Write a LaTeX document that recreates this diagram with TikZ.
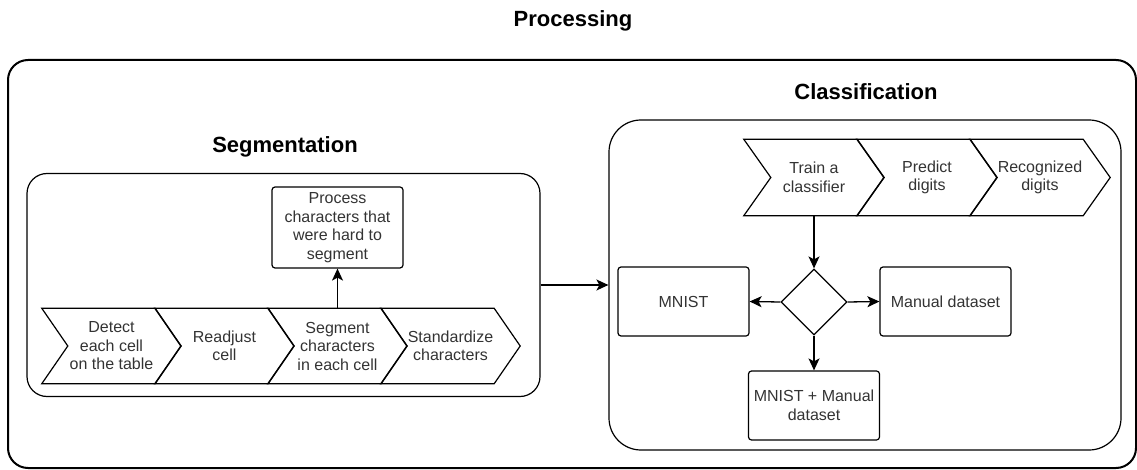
\documentclass[tikz,border=0pt]{standalone}
\usepackage{fontspec}
\setmainfont{Liberation Sans}
\usetikzlibrary{shapes.geometric,arrows.meta}
\newcommand\chevpath[2]{\draw[line width=1.2pt] (#1.north west) -- ([xshift=-#2]#1.north east) -- (#1.east) -- ([xshift=-#2]#1.south east) -- (#1.south west) -- ([xshift=#2]#1.west) -- cycle;}
\begin{document}
\begin{tikzpicture}[x=1pt,y=-1pt,
  txt/.style={text=black!80, font=\fontsize{16}{18.5}\selectfont, align=center},
  ttl/.style={font=\fontsize{22}{26}\selectfont\bfseries, anchor=base, inner sep=0pt},
  chev/.style={txt, minimum width=139pt, minimum height=75pt, inner sep=0pt},
  cchev/.style={txt, minimum width=140pt, minimum height=76pt, inner sep=0pt},
  box/.style={txt, draw=black, line width=1.2pt, rounded corners=3pt, minimum width=131pt, minimum height=69pt, inner sep=0pt},
  container/.style={draw=black, line width=1.2pt, inner sep=0pt},
  arr/.style={line width=1.3pt, -{Stealth[length=12pt,width=11pt,inset=3pt]}},
]
\useasboundingbox (0,0) rectangle (1137,470);

% titles
\node[ttl] (tproc) at (573,26.7) {Processing};
\node[ttl] (tseg) at (285,153) {Segmentation};
\node[ttl] (tcls) at (866,100) {Classification};

% containers
\node[container, line width=2pt, rounded corners=20pt, minimum width=1128pt, minimum height=408pt] (proc) at (572,264) {};
\node[container, rounded corners=20pt, minimum width=513pt, minimum height=223pt] (seg) at (283.5,285) {};
\node[container, rounded corners=32pt, minimum width=512pt, minimum height=330pt] (cls) at (865,285) {};

% segmentation chevrons
\node[chev] (s1) at (111.5,346) {Detect\\each cell\\on the table};
\node[chev] (s2) at (224.5,346) {Readjust\\cell};
\node[chev] (s3) at (337.5,346) {Segment\\characters\\in each cell};
\node[chev] (s4) at (450.5,346) {Standardize\\characters};
\chevpath{s1}{26pt}
\chevpath{s2}{26pt}
\chevpath{s3}{26pt}
\chevpath{s4}{26pt}

\node[box, minimum height=81pt] (hard) at (337.5,227.5) {Process\\characters that\\were hard to\\segment};
\draw[arr] (s3.north) -- (hard.south);

% classification chevrons
\node[cchev] (c1) at (814,177.5) {Train a\\classifier};
\node[cchev] (c2) at (927,177.5) {Predict\\digits};
\node[cchev] (c3) at (1040,177.5) {Recognized\\digits};
\chevpath{c1}{27pt}
\chevpath{c2}{27pt}
\chevpath{c3}{27pt}

\node[draw=black, line width=1.2pt, diamond, minimum width=66pt, minimum height=66pt, inner sep=0pt] (dec) at (814,302) {};
\node[box] (mnist) at (683.5,301.5) {MNIST};
\node[box] (manual) at (945.5,301.5) {Manual dataset};
\node[box] (both) at (814,405.5) {MNIST + Manual\\dataset};

\draw[arr] (c1.south) -- (dec.north);
\draw[arr] (dec.west) -- (mnist.east);
\draw[arr] (dec.east) -- (manual.west);
\draw[arr] (dec.south) -- (both.north);

\draw[arr] (seg.east) -- (cls.west);
\end{tikzpicture}
\end{document}
